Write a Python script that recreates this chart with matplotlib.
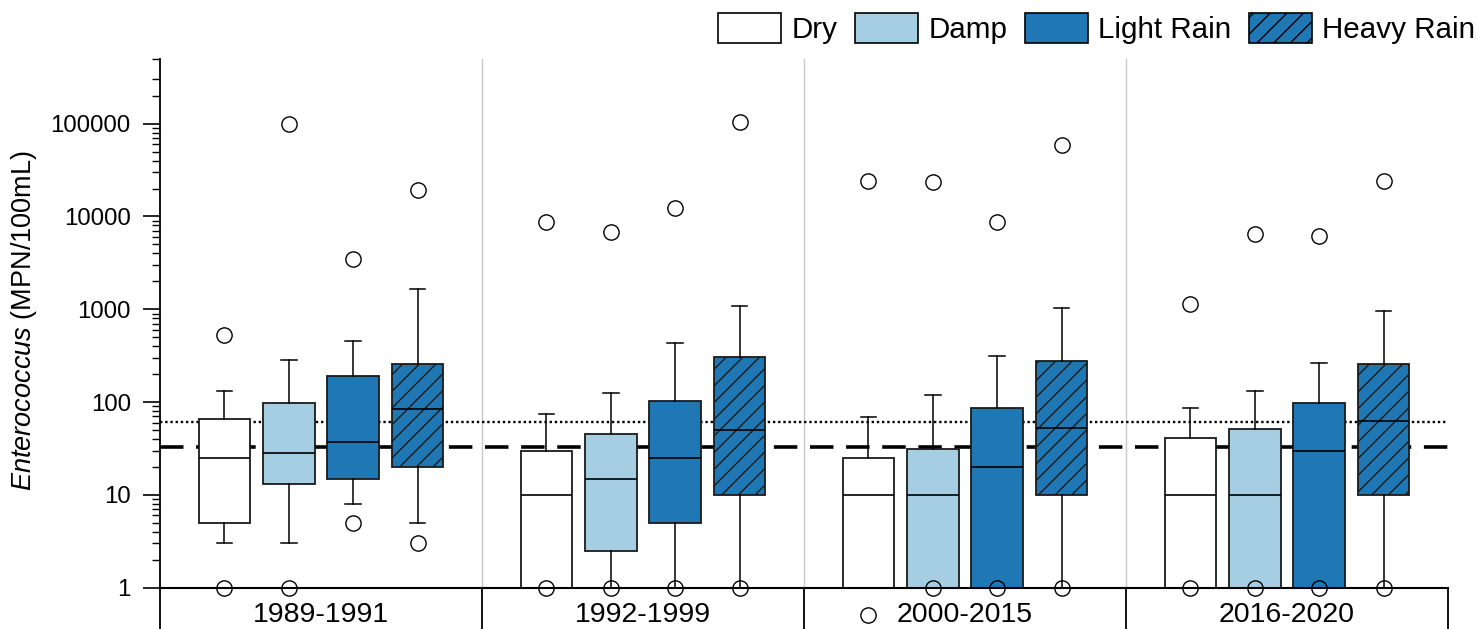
import matplotlib.pyplot as plt
from matplotlib.patches import Patch
from matplotlib.ticker import FixedLocator, NullFormatter

plt.rcParams["font.family"] = ["Liberation Sans", "DejaVu Sans"]
plt.rcParams["mathtext.fontset"] = "custom"
plt.rcParams["mathtext.it"] = "Liberation Sans:italic"
plt.rcParams["mathtext.rm"] = "Liberation Sans"
plt.rcParams["hatch.linewidth"] = 1.0

# Data (MPN/100mL)
periods = ["1989-1991", "1992-1999", "2000-2015", "2016-2020"]
conditions = ["Dry", "Damp", "Light Rain", "Heavy Rain"]

dry_whishi = [133, 75, 69, 86]
dry_q3 = [65, 30, 25, 41]
dry_med = [25, 10, 10, 10]
dry_q1 = [5, 1, 1, 1]
dry_whislo = [3, 1, 1, 1]
dry_fliers = [[1, 530], [1, 8700], [0.51, 24000], [1, 1150]]

damp_whishi = [286, 124, 119, 133]
damp_q3 = [98, 45, 31, 51]
damp_med = [28, 15, 10, 10]
damp_q1 = [13, 2.5, 1, 1]
damp_whislo = [3, 1, 1, 1]
damp_fliers = [[1, 100000], [1, 6800], [1, 23400], [1, 6500]]

light_whishi = [460, 437, 312, 266]
light_q3 = [192, 103, 86, 97]
light_med = [37, 25, 20, 30]
light_q1 = [15, 5, 1, 1]
light_whislo = [8, 1, 1, 1]
light_fliers = [[5, 3500], [1, 12400], [1, 8800], [1, 6100]]

heavy_whishi = [1650, 1090, 1040, 966]
heavy_q3 = [259, 304, 279, 255]
heavy_med = [85, 50, 53, 63]
heavy_q1 = [20, 10, 10, 10]
heavy_whislo = [5, 1, 1, 1]
heavy_fliers = [[3, 19500], [1, 104000], [1, 58500], [1, 24100]]

# reference lines
dashed_level = 33
dotted_level = 61

series = [
    (dry_whislo, dry_q1, dry_med, dry_q3, dry_whishi, dry_fliers),
    (damp_whislo, damp_q1, damp_med, damp_q3, damp_whishi, damp_fliers),
    (light_whislo, light_q1, light_med, light_q3, light_whishi, light_fliers),
    (heavy_whislo, heavy_q1, heavy_med, heavy_q3, heavy_whishi, heavy_fliers),
]
face_colors = ["white", "#a6cee3", "#1f78b4", "#1f78b4"]
hatches = [None, None, None, "//"]

y_bottom, y_top = 0.359, 5e5

fig = plt.figure(figsize=(14.78, 6.29), dpi=100)
ax = fig.add_axes([160 / 1478, 0.0, 1288 / 1478, 1 - 58.8 / 629])

n_cond = len(conditions)
group_width = n_cond + 1
for k, (lo, q1, med, q3, hi, fl) in enumerate(series):
    stats = []
    positions = []
    for i in range(len(periods)):
        stats.append(
            {"whislo": lo[i], "q1": q1[i], "med": med[i], "q3": q3[i],
             "whishi": hi[i], "fliers": fl[i]}
        )
        positions.append(group_width * i + k + 1)
    result = ax.bxp(
        stats,
        positions=positions,
        widths=0.8,
        patch_artist=True,
        showfliers=True,
        boxprops=dict(edgecolor="#1a1a1a", linewidth=1.3),
        medianprops=dict(color="black", linewidth=1.2),
        whiskerprops=dict(color="black", linewidth=1.1),
        capprops=dict(color="black", linewidth=1.1),
        capwidths=0.24,
        flierprops=dict(marker="o", markersize=11, markerfacecolor="none",
                        markeredgecolor="black", markeredgewidth=1.0),
        manage_ticks=False,
    )
    for box in result["boxes"]:
        box.set_facecolor(face_colors[k])
        if hatches[k]:
            box.set_hatch(hatches[k])
    for flier in result["fliers"]:
        flier.set_zorder(4)
        flier.set_clip_on(False)

# reference lines
ax.axhline(dotted_level, color="black", linewidth=1.7, linestyle=(0, (1, 1.2)), zorder=1)
ax.axhline(dashed_level, color="black", linewidth=2.6, linestyle=(0, (6.5, 3.5)), zorder=1)

# separators: light grey in plot area, black in the label strip
n_groups = len(periods)
for i in range(1, n_groups):
    x = group_width * i
    ax.plot([x, x], [1, y_top], color="#c8c8c8", linewidth=1.0, zorder=0.5)
for i in range(1, n_groups + 1):
    x = group_width * i
    ax.plot([x, x], [y_bottom, 1], color="black", linewidth=1.3, clip_on=False)

ax.axhline(1, color="black", linewidth=1.5, zorder=3, clip_on=False)

for i, label in enumerate(periods):
    ax.text(group_width * i + group_width / 2, 0.43, label, ha="center",
            va="baseline", fontsize=20.5)

ax.set_yscale("log")
ax.set_ylim(y_bottom, y_top)
ax.set_xlim(0, group_width * n_groups)

major = [1, 10, 100, 1000, 10000, 100000]
minor = [m * 10 ** d for d in range(5) for m in range(2, 10)] + [2e5, 3e5, 5e5]
ax.yaxis.set_major_locator(FixedLocator(major))
ax.yaxis.set_minor_locator(FixedLocator(minor))
ax.yaxis.set_minor_formatter(NullFormatter())
ax.set_yticklabels([str(v) for v in major])
ax.tick_params(axis="y", which="major", length=12, width=1.2, labelsize=17.3, pad=9)
ax.tick_params(axis="y", which="minor", length=6, width=1.0)
ax.tick_params(axis="x", bottom=False, labelbottom=False)

for side in ["top", "right", "bottom"]:
    ax.spines[side].set_visible(False)
ax.spines["left"].set_linewidth(1.3)

fig.text(24 / 1478, 1 - 320 / 629, r"$\it{Enterococcus}$ (MPN/100mL)",
         rotation=90, ha="center", va="center", fontsize=19.5)

handles = [
    Patch(facecolor=face_colors[k], edgecolor="black", linewidth=1.2,
          hatch=hatches[k])
    for k in range(n_cond)
]
fig.legend(handles, conditions, loc="center right",
           bbox_to_anchor=(1475 / 1478, 1 - 28.5 / 629), ncol=4, frameon=False,
           fontsize=21.3, handlelength=2.13, handleheight=1.2, handletextpad=0.34,
           columnspacing=0.6, borderpad=0, borderaxespad=0)

fig.savefig("out.png", dpi=100)
